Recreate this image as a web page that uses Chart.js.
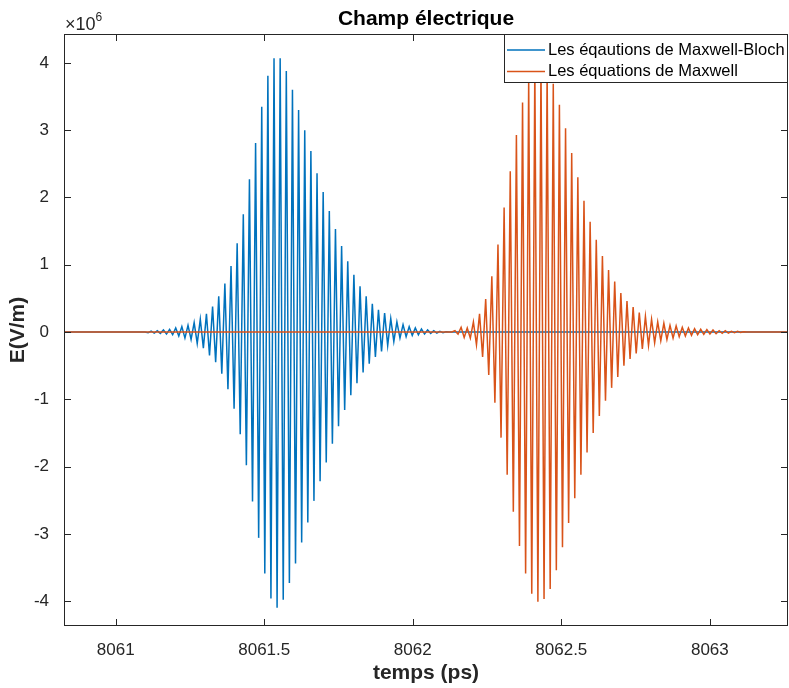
<!DOCTYPE html>
<html>
<head>
<meta charset="utf-8">
<script src="https://cdn.jsdelivr.net/npm/chart.js@4"></script>
<style>
  html, body { margin: 0; padding: 0; background: #fff; }
  canvas { display: block; }
</style>
</head>
<body>
<canvas id="champ" width="789" height="688"></canvas>
<script>
// axis limits and ticks
const xMin = 8060.826, xMax = 8063.263;
const yMin = -4.37, yMax = 4.43;
const xTicks = [8061, 8061.5, 8062, 8062.5, 8063];
const yTicks = [-4, -3, -2, -1, 0, 1, 2, 3, 4];

// the field is sampled at its extremes, one value per half period (x1e6 V/m)
const halfPeriod = 0.01034;
const blueStart = 8061.109;
const orangeStart = 8062.142;

const blueLabel = 'Les éqautions de Maxwell-Bloch';
const bluePeaks = [
  -0.01, 0.012, -0.015, 0.018, -0.02, 0.03, -0.03, 0.04, -0.04, 0.06,
  -0.06, 0.08, -0.09, 0.10, -0.11, 0.14, -0.17, 0.19, -0.24, 0.27,
  -0.35, 0.38, -0.45, 0.53, -0.62, 0.72, -0.85, 0.98, -1.14, 1.32,
  -1.52, 1.75, -1.98, 2.27, -2.52, 2.81, -3.06, 3.35, -3.59, 3.81,
  -3.96, 4.07, -4.10, 4.07, -3.98, 3.88, -3.73, 3.60, -3.44, 3.30,
  -3.13, 3.00, -2.83, 2.69, -2.51, 2.36, -2.22, 2.08, -1.94, 1.80,
  -1.66, 1.53, -1.40, 1.28, -1.16, 1.05, -0.94, 0.85, -0.76, 0.68,
  -0.60, 0.53, -0.47, 0.42, -0.37, 0.33, -0.29, 0.28, -0.20, 0.20,
  -0.14, 0.15, -0.09, 0.11, -0.07, 0.08, -0.05, 0.06, -0.04, 0.045,
  -0.03, 0.03, -0.02, 0.02, -0.015, 0.01, -0.01, 0.005
];

const orangeLabel = 'Les équations de Maxwell';
const orangePeaks = [
  0.02, -0.03, 0.07, -0.08, 0.06, -0.09, 0.15, -0.19, 0.27, -0.37,
  0.49, -0.64, 0.83, -1.05, 1.30, -1.57, 1.85, -2.12, 2.39, -2.67,
  2.93, -3.18, 3.41, -3.59, 3.77, -3.89, 3.98, -4.01, 4.00, -3.97,
  3.91, -3.82, 3.69, -3.54, 3.38, -3.20, 3.03, -2.84, 2.66, -2.47,
  2.30, -2.12, 1.95, -1.79, 1.64, -1.50, 1.37, -1.25, 1.13, -1.02,
  0.92, -0.83, 0.75, -0.67, 0.58, -0.50, 0.46, -0.40, 0.37, -0.32,
  0.29, -0.25, 0.23, -0.20, 0.19, -0.16, 0.15, -0.13, 0.13, -0.11,
  0.10, -0.09, 0.09, -0.07, 0.07, -0.06, 0.06, -0.05, 0.05, -0.04,
  0.04, -0.035, 0.035, -0.03, 0.03, -0.025, 0.02, -0.02, 0.02, -0.015,
  0.01, -0.01, 0.01, -0.005, 0.005
];

const blue = '#0072BD';
const orange = '#D95319';
const axisColor = '#262626';
const fontFamily = "'Liberation Sans', Arial, Helvetica, sans-serif";

function toPoints(start, peaks) {
  const pts = [{x: xMin, y: 0}, {x: start - halfPeriod, y: 0}];
  peaks.forEach((v, i) => pts.push({x: start + i * halfPeriod, y: v}));
  pts.push({x: start + peaks.length * halfPeriod, y: 0});
  pts.push({x: xMax, y: 0});
  return pts;
}

// box, inward ticks, titles and the legend drawn the matlab way
const matlabFrame = {
  id: 'matlabFrame',
  afterDatasetsDraw(chart) {
    const {ctx, chartArea: a, scales: {x, y}} = chart;
    ctx.save();
    ctx.strokeStyle = axisColor;
    ctx.lineWidth = 1;
    ctx.beginPath();
    xTicks.forEach((v) => {
      const px = Math.round(x.getPixelForValue(v)) + 0.5;
      ctx.moveTo(px, a.bottom); ctx.lineTo(px, a.bottom - 7);
      ctx.moveTo(px, a.top); ctx.lineTo(px, a.top + 7);
    });
    yTicks.forEach((v) => {
      const py = Math.round(y.getPixelForValue(v)) + 0.5;
      ctx.moveTo(a.left, py); ctx.lineTo(a.left + 7, py);
      ctx.moveTo(a.right, py); ctx.lineTo(a.right - 7, py);
    });
    ctx.stroke();
    ctx.strokeRect(a.left + 0.5, a.top + 0.5, a.right - a.left - 1, a.bottom - a.top - 1);
    ctx.restore();
  },
  afterDraw(chart) {
    const {ctx, chartArea: a} = chart;
    const cx = (a.left + a.right) / 2;
    ctx.save();
    ctx.fillStyle = '#000';
    ctx.textAlign = 'center';
    ctx.textBaseline = 'middle';
    ctx.font = 'bold 21px ' + fontFamily;
    ctx.fillText('Champ électrique', cx, 19);
    ctx.fillStyle = axisColor;
    ctx.fillText('temps (ps)', cx, 673);
    ctx.save();
    ctx.translate(18, (a.top + a.bottom) / 2);
    ctx.rotate(-Math.PI / 2);
    ctx.fillText('E(V/m)', 0, 0);
    ctx.restore();

    // exponent label
    ctx.textAlign = 'left';
    ctx.textBaseline = 'alphabetic';
    ctx.font = '18px ' + fontFamily;
    ctx.fillText('\u00d710', a.left + 1, 30);
    const w = ctx.measureText('\u00d710').width;
    ctx.font = '12px ' + fontFamily;
    ctx.fillText('6', a.left + 1 + w, 21);

    // legend box
    const lx = 504.5, ly = a.top + 0.5, lw = a.right - 0.5 - lx, lh = 48;
    ctx.fillStyle = '#fff';
    ctx.fillRect(lx, ly, lw, lh);
    ctx.strokeStyle = axisColor;
    ctx.lineWidth = 1;
    ctx.strokeRect(lx, ly, lw, lh);
    const rows = [[blueLabel, blue, ly + 15.5], [orangeLabel, orange, ly + 37]];
    ctx.font = '16.5px ' + fontFamily;
    ctx.textBaseline = 'middle';
    rows.forEach(([label, color, ry]) => {
      ctx.strokeStyle = color;
      ctx.lineWidth = 1.4;
      ctx.beginPath();
      ctx.moveTo(507, ry);
      ctx.lineTo(545, ry);
      ctx.stroke();
      ctx.fillStyle = '#000';
      ctx.fillText(label, 548, ry);
    });
    ctx.restore();
  }
};

new Chart(document.getElementById('champ').getContext('2d'), {
  type: 'line',
  data: {
    datasets: [
      {
        label: blueLabel,
        data: toPoints(blueStart, bluePeaks),
        borderColor: blue,
        borderWidth: 1.5,
        pointRadius: 0,
        tension: 0,
        order: 1
      },
      {
        label: orangeLabel,
        data: toPoints(orangeStart, orangePeaks),
        borderColor: orange,
        borderWidth: 1.5,
        pointRadius: 0,
        tension: 0,
        order: 0
      }
    ]
  },
  options: {
    responsive: false,
    animation: false,
    events: [],
    layout: {padding: {top: 34, right: 1, left: 0, bottom: 0}},
    plugins: {
      legend: {display: false},
      title: {display: false},
      tooltip: {enabled: false}
    },
    scales: {
      x: {
        type: 'linear',
        min: xMin,
        max: xMax,
        grid: {display: false},
        border: {display: false},
        afterBuildTicks: (scale) => { scale.ticks = xTicks.map((v) => ({value: v})); },
        afterFit: (scale) => { scale.height = 62; },
        ticks: {
          padding: 6,
          maxRotation: 0,
          color: axisColor,
          font: {family: fontFamily, size: 17},
          callback: (v) => String(v)
        }
      },
      y: {
        type: 'linear',
        min: yMin,
        max: yMax,
        grid: {display: false},
        border: {display: false},
        afterBuildTicks: (scale) => { scale.ticks = yTicks.map((v) => ({value: v})); },
        afterFit: (scale) => { scale.width = 64; },
        ticks: {
          padding: 7,
          color: axisColor,
          font: {family: fontFamily, size: 17},
          callback: (v) => String(v)
        }
      }
    }
  },
  plugins: [matlabFrame]
});
</script>
</body>
</html>
